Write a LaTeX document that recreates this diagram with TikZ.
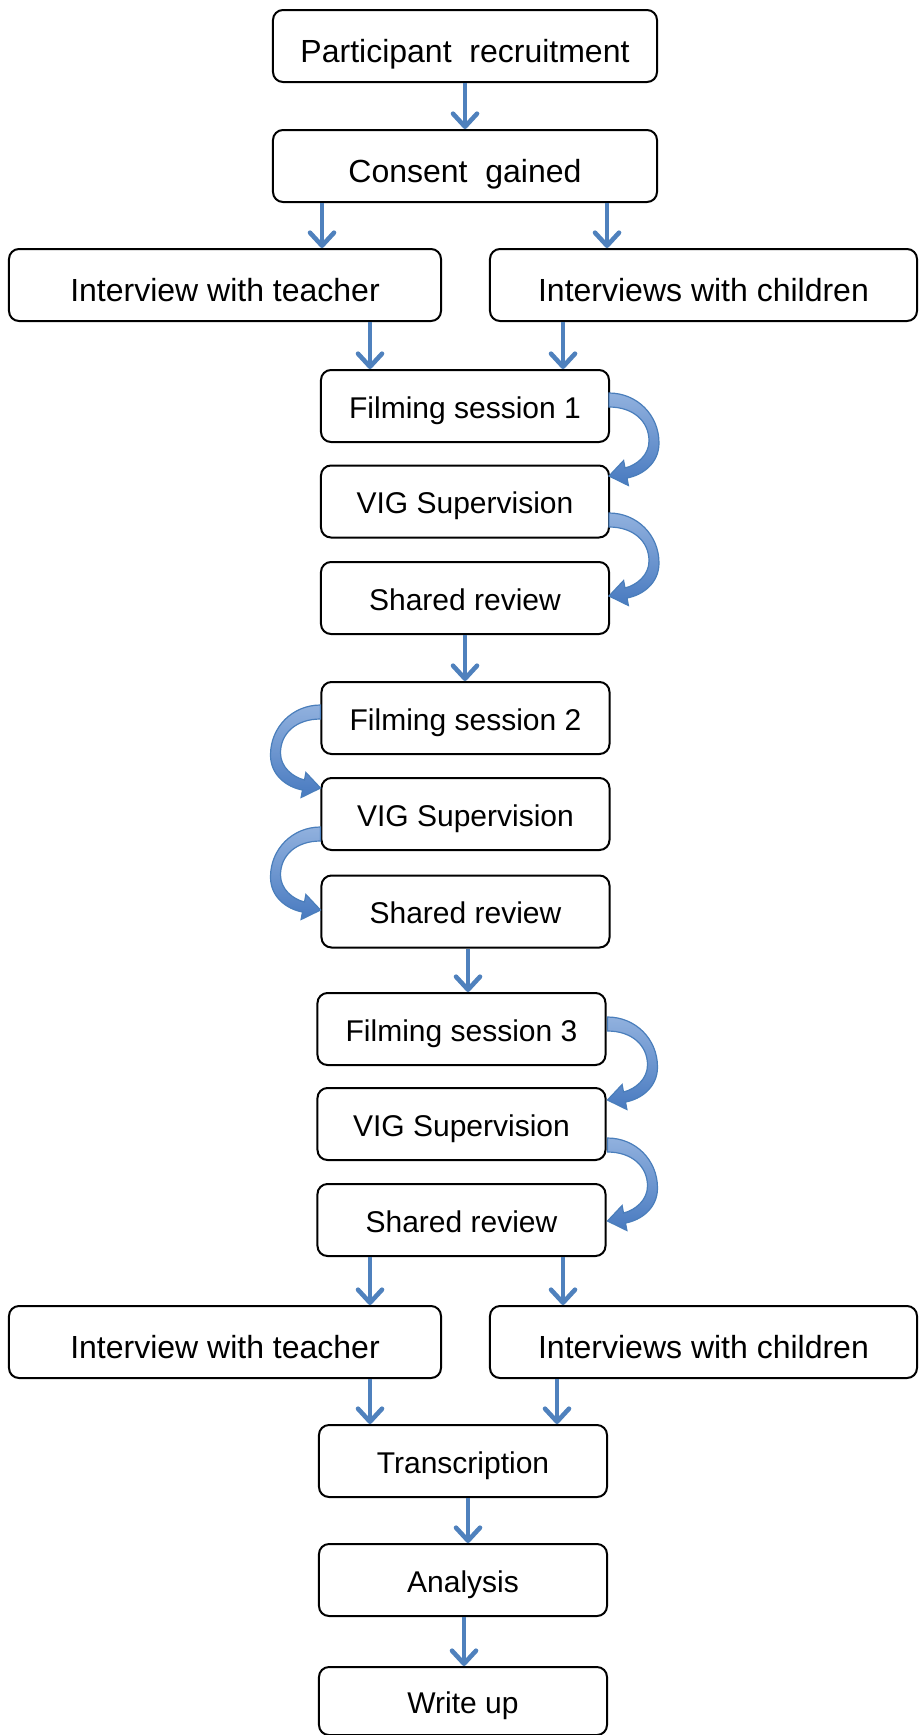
\documentclass[tikz,border=0pt]{standalone}
\usepackage{fontspec}
\setmainfont{Liberation Sans}
\usetikzlibrary{arrows.meta,calc}
\definecolor{arrowblue}{RGB}{79,129,189}
\definecolor{curvelight}{RGB}{145,177,222}
\definecolor{curvedark}{RGB}{72,122,192}
\definecolor{curveedge}{RGB}{74,126,187}
\newcommand\bentarrow[2]{%
  \begin{scope}[shift={#1}, xscale=#2]
    \draw[curveedge, line width=0.6bp, top color=curvelight, bottom color=curvedark]
      (0,0) .. controls (28,0) and (50,22) .. (50,50)
      .. controls (50,70) and (34,82) .. (18,85)
      -- (19.4,92.5) -- (0,83) -- (14.6,67.5) -- (16,75)
      .. controls (28,72) and (40,62) .. (40,48)
      .. controls (40,28) and (24,14) .. (0,14) -- cycle;
  \end{scope}}
\tikzset{
  box/.style={draw=black, rounded corners=5bp, line width=1bp, minimum height=36bp,
    inner sep=0pt, text=black, text depth=0pt},
  bigbox/.style={box, font=\fontsize{16bp}{19bp}\selectfont, text height=16bp},
  smallbox/.style={box, minimum width=144bp, font=\fontsize{15bp}{18bp}\selectfont, text height=12bp},
  arr/.style={draw=arrowblue, line width=2.3bp,
    -{Straight Barb[length=6.5bp,width=12bp,line cap=round,line join=round]}}
}
\begin{document}
\begin{tikzpicture}[x=0.5bp,y=-0.5bp]
\useasboundingbox (0,0) rectangle (918,1735);

\node[bigbox, minimum width=192bp] (p1) at (465,46) {Participant~~recruitment};
\node[bigbox, minimum width=192bp] (p2) at (465,166) {Consent~~gained};
\node[bigbox, minimum width=216bp] (iL1) at (225,285) {Interview with teacher};
\node[bigbox, minimum width=213.5bp] (iR1) at (703.5,285) {Interviews with children};

\node[smallbox] (f1) at (465,406) {Filming session 1};
\node[smallbox] (v1) at (465,501.5) {VIG Supervision};
\node[smallbox] (s1) at (465,598) {Shared review};

\node[smallbox] (f2) at (465.5,718) {Filming session 2};
\node[smallbox] (v2) at (465.5,814) {VIG Supervision};
\node[smallbox] (s2) at (465.5,911.5) {Shared review};

\node[smallbox] (f3) at (461.5,1029) {Filming session 3};
\node[smallbox] (v3) at (461.5,1124) {VIG Supervision};
\node[smallbox] (s3) at (461.5,1220) {Shared review};

\node[bigbox, minimum width=216bp] (iL2) at (225,1342) {Interview with teacher};
\node[bigbox, minimum width=213.5bp] (iR2) at (703.5,1342) {Interviews with children};

\node[smallbox] (tr) at (463,1461) {Transcription};
\node[smallbox] (an) at (463,1580) {Analysis};
\node[smallbox, minimum height=34bp] (wu) at (463,1701) {Write up};

% straight arrows
\draw[arr] (p1.south) -- (p2.north);
\coordinate (a1) at ($(p2.south)+(-143,0)$);
\coordinate (a2) at ($(p2.south)+(142,0)$);
\draw[arr] (a1) -- (a1 |- iL1.north);
\draw[arr] (a2) -- (a2 |- iR1.north);
\coordinate (b1) at (370,0);
\coordinate (b2) at (563,0);
\draw[arr] (b1 |- iL1.south) -- (b1 |- f1.north);
\draw[arr] (b2 |- iR1.south) -- (b2 |- f1.north);
\draw[arr] (s1.south) -- (s1.south |- f2.north);
\coordinate (c1) at (468,0);
\draw[arr] (c1 |- s2.south) -- (c1 |- f3.north);
\draw[arr] (b1 |- s3.south) -- (b1 |- iL2.north);
\draw[arr] (b2 |- s3.south) -- (b2 |- iL2.north);
\coordinate (d2) at (557,0);
\draw[arr] (b1 |- iL2.south) -- (b1 |- tr.north);
\draw[arr] (d2 |- iR2.south) -- (d2 |- tr.north);
\draw[arr] (c1 |- tr.south) -- (c1 |- an.north);
\coordinate (e1) at (464,0);
\draw[arr] (e1 |- an.south) -- (e1 |- wu.north);

% bent arrows
\bentarrow{($(f1.east)+(-1,-13)$)}{1}
\bentarrow{($(v1.east)+(-1,11.5)$)}{1}
\bentarrow{($(f2.west)+(0,-13)$)}{-1}
\bentarrow{($(v2.west)+(0,13)$)}{-1}
\bentarrow{($(f3.east)+(1,-12)$)}{1}
\bentarrow{($(v3.east)+(1,14)$)}{1}
\end{tikzpicture}
\end{document}
